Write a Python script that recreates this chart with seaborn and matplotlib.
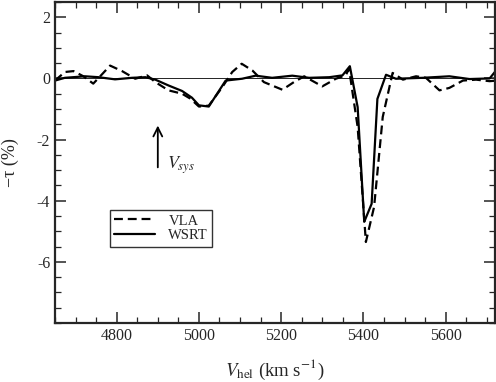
import numpy as np
import pandas as pd
import matplotlib
matplotlib.use("Agg")
import matplotlib.pyplot as plt
from matplotlib.ticker import MultipleLocator
import seaborn as sns

# VLA spectrum (dashed)
vla_vel = [4650, 4674, 4695, 4719, 4743, 4764, 4784, 4813, 4845, 4874, 4894,
           4926, 4959, 4979, 5000, 5024, 5057, 5081, 5104, 5130, 5158, 5203,
           5231, 5256, 5300, 5333, 5357, 5365, 5386, 5406, 5426, 5447, 5471,
           5496, 5528, 5552, 5585, 5609, 5642, 5674, 5707, 5725]
vla_tau = [-0.07, 0.21, 0.24, 0.07, -0.17, 0.13, 0.42, 0.24, -0.01, 0.10, -0.12,
           -0.39, -0.50, -0.66, -0.92, -0.89, -0.28, 0.21, 0.48, 0.26, -0.12, -0.37,
           -0.12, 0.07, -0.26, -0.01, 0.10, 0.32, -1.59, -5.35, -4.20, -1.26, 0.18,
           -0.04, 0.07, 0.02, -0.39, -0.31, -0.07, -0.04, -0.09, -0.07]

# WSRT spectrum (solid)
wsrt_vel = [4650, 4674, 4723, 4756, 4796, 4837, 4870, 4894, 4926, 4959, 4983,
            5000, 5024, 5065, 5105, 5138, 5178, 5227, 5268, 5317, 5349, 5367,
            5386, 5402, 5420, 5434, 5455, 5479, 5544, 5609, 5658, 5707, 5722]
wsrt_tau = [-0.07, 0.02, 0.07, 0.04, -0.03, 0.02, 0.04, -0.04, -0.23, -0.41, -0.63,
            -0.88, -0.92, -0.07, -0.01, 0.09, 0.02, 0.09, 0.02, 0.04, 0.10, 0.40,
            -0.94, -4.69, -4.10, -0.67, 0.12, -0.01, 0.02, 0.07, -0.02, 0.00, 0.25]

v_sys = 4900

sns.set_style("ticks")
plt.rcParams["font.family"] = ["Liberation Serif", "DejaVu Serif"]
plt.rcParams["mathtext.fontset"] = "stix"

vla = pd.DataFrame({"vel": vla_vel, "tau": vla_tau})
wsrt = pd.DataFrame({"vel": wsrt_vel, "tau": wsrt_tau})

fig = plt.figure(figsize=(4.96, 3.82), dpi=100)
ax = fig.add_axes([55 / 496, 1 - 323 / 382, 440 / 496, 321 / 382])

sns.lineplot(data=vla, x="vel", y="tau", ax=ax, color="black", lw=1.6,
             linestyle=(0, (4, 2.2)), estimator=None, sort=False, label="VLA")
sns.lineplot(data=wsrt, x="vel", y="tau", ax=ax, color="black", lw=1.6,
             estimator=None, sort=False, label="WSRT")
ax.axhline(0, color="black", lw=0.6, zorder=0)

ax.set_xlim(4650, 5720)
ax.set_ylim(-8, 2.5)
ax.xaxis.set_major_locator(MultipleLocator(200))
ax.xaxis.set_minor_locator(MultipleLocator(50))
ax.set_yticks([2, 0, -2, -4, -6])
ax.set_yticklabels(["2", "0", "-2", "-4", "-6"])
ax.yaxis.set_minor_locator(MultipleLocator(0.5))
ax.tick_params(which="both", direction="in", top=True, right=True, labelsize=11.5)
ax.tick_params(which="major", length=8, width=1.1)
ax.tick_params(which="minor", length=4, width=0.9)
for s in ax.spines.values():
    s.set_linewidth(1.6)

ax.set_xlabel(r"$V_{\rm hel}$ (km s$^{-1}$)", fontsize=13.5, labelpad=10)
ax.set_ylabel("\u2212\u03c4 (%)", fontsize=13, labelpad=13)

# systemic velocity marker
ax.annotate("", xy=(v_sys, -1.45), xytext=(v_sys, -3.0),
            arrowprops=dict(arrowstyle="->", color="black", lw=1.3,
                            mutation_scale=16))
ax.text(v_sys + 22, -2.95, r"$V_{sys}$", fontsize=13, ha="left", va="baseline")

leg = ax.legend(loc="upper left", bbox_to_anchor=(0.125, 0.352), fontsize=10.5,
                frameon=True, fancybox=False, edgecolor="black",
                handlelength=2.8, borderpad=0.3, labelspacing=0.1,
                handletextpad=0.9, borderaxespad=0)
leg.get_frame().set_linewidth(1.0)

fig.savefig("out.png", dpi=100)
